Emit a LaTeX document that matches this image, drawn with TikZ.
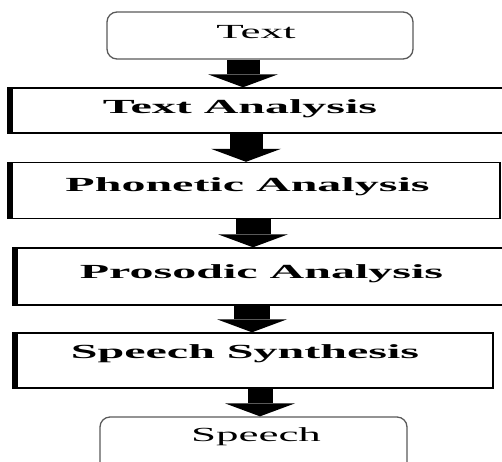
\documentclass[tikz,border=0pt]{standalone}
\usepackage{fontspec}
\setmainfont{Liberation Serif}
\usepackage{graphicx}
\usetikzlibrary{arrows.meta}
\newcommand\wide[1]{\scalebox{2.4}[1]{\bfseries #1}}
\newcommand\thin[1]{\scalebox{2.25}[1]{#1}}
\tikzset{
  stage/.style={draw, line width=1.4pt, inner sep=0pt, font=\fontsize{20}{22}\selectfont,
    text height=13.2pt, path picture={
      \draw [line width=9pt] (path picture bounding box.south west) -- (path picture bounding box.north west);}},
  term/.style={draw=black!65, line width=1.3pt, rounded corners=10pt, inner sep=0pt,
    font=\fontsize{20}{22}\selectfont, text height=13.2pt},
  flow/.style={line width=#1, -{Triangle[width=70pt, length=13pt, line width=0pt]}},
}
\begin{document}
\begin{tikzpicture}[x=1pt, y=-1pt]
\useasboundingbox (0,0) rectangle (502,461);
\clip (0,0) rectangle (502,461);

% Boxes
\node (text) [term, minimum width=306pt, minimum height=47pt, text depth=8pt]
    at (260,35.5) {\thin{Text}\hspace*{8pt}};
\node (ta) [stage, minimum width=502pt, minimum height=45pt, text depth=8pt]
    at (259,110.5) {\wide{Text Analysis}\hspace*{38pt}};
\node (pa) [stage, minimum width=492pt, minimum height=56pt, text depth=12pt]
    at (254,190.5) {\wide{Phonetic Analysis}\hspace*{13pt}};
\node (pr) [stage, minimum width=497pt, minimum height=57pt, text depth=9pt]
    at (261.5,276.5) {\wide{Prosodic Analysis}};
\node (ss) [stage, minimum width=480pt, minimum height=55pt, text depth=18pt]
    at (253,360.5) {\wide{Speech Synthesis}\hspace*{16pt}};
\node (sp) [term, minimum width=307pt, minimum height=58pt, text depth=23pt]
    at (253.5,446) {\hspace*{5pt}\thin{Speech}};

% Arrows
\draw [flow=33pt] ([xshift=-17pt]text.south) -- ([xshift=-16pt]ta.north);
\draw [flow=33pt] ([xshift=-13pt]ta.south)   -- ([xshift=-8pt]pa.north);
\draw [flow=35pt] ([xshift=-1pt]pa.south)    -- ([xshift=-8.5pt]pr.north);
\draw [flow=36pt] ([xshift=-9.5pt]pr.south)  -- ([xshift=-1pt]ss.north);
\draw [flow=25pt] ([xshift=7pt]ss.south)     -- ([xshift=6.5pt]sp.north);

\end{tikzpicture}
\end{document}
